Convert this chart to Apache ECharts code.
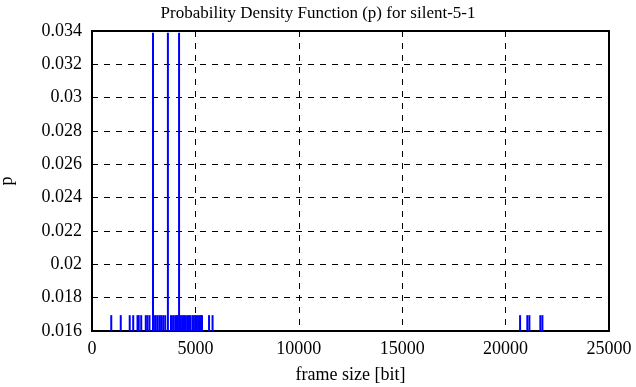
<!DOCTYPE html>
<html>
<head>
<meta charset="utf-8">
<script src="https://cdn.jsdelivr.net/npm/echarts@6/dist/echarts.min.js"></script>
<style>html,body{margin:0;padding:0;background:#fff;}#c{width:636px;height:387px;}</style>
</head>
<body>
<div id="c"></div>
<script>
// frame sizes [bit] of each impulse and their probability
const frameSizes = [931, 1390, 1824, 1993, 2200, 2260, 2380, 2600, 2680, 2780,
  2950, 3050, 3150, 3250, 3340, 3440, 3540, 3670, 3820, 3920, 4020, 4090, 4150, 4210,
  4300, 4380, 4450, 4520, 4600, 4680, 4740, 4850, 4920, 4990, 5060, 5130, 5200,
  5270, 5320, 5660, 5830, 20700, 21050, 21150, 21680, 21780];
const probs = [0.01695, 0.01695, 0.01695, 0.01695, 0.01695, 0.01695, 0.01695, 0.01695, 0.01695, 0.01695,
  0.0339, 0.01695, 0.01695, 0.01695, 0.01695, 0.01695, 0.01695, 0.0339, 0.01695, 0.01695, 0.01695, 0.01695, 0.01695, 0.0339,
  0.01695, 0.01695, 0.01695, 0.01695, 0.01695, 0.01695, 0.01695, 0.01695, 0.01695, 0.01695, 0.01695, 0.01695, 0.01695,
  0.01695, 0.01695, 0.01695, 0.01695, 0.01695, 0.01695, 0.01695, 0.01695, 0.01695];
const xTicks = [0, 5000, 10000, 15000, 20000, 25000];
const yMin = 0.016, yMax = 0.034, yStep = 0.002;

const data = frameSizes.map((x, i) => [x, probs[i]]);
const font = 'Liberation Serif';
const chart = echarts.init(document.getElementById('c'), null, {renderer: 'canvas'});
chart.setOption({
  animation: false,
  backgroundColor: '#fff',
  title: {
    text: 'Probability Density Function (p) for silent-5-1',
    left: 'center', top: 0,
    textStyle: {fontFamily: font, fontWeight: 'normal', fontSize: 17, color: '#000'}
  },
  grid: {left: 92, right: 27, top: 31, bottom: 56, show: true, borderColor: '#000', borderWidth: 2,
    containLabel: false, outerBoundsMode: 'none'},
  xAxis: {
    type: 'value', min: xTicks[0], max: xTicks[xTicks.length - 1], interval: 5000,
    name: 'frame size [bit]', nameLocation: 'middle', nameGap: 35,
    nameTextStyle: {fontFamily: font, fontSize: 18, color: '#000'},
    axisLine: {show: false},
    axisTick: {show: false},
    axisLabel: {fontFamily: font, fontSize: 18, color: '#000', margin: 9,
      formatter: v => String(v)},
    splitLine: {show: true, lineStyle: {color: '#000', type: [6, 6], width: 1}}
  },
  yAxis: {
    type: 'value', min: yMin, max: yMax, interval: yStep,
    name: 'p', nameLocation: 'middle', nameGap: 76, nameRotate: 90,
    nameTextStyle: {fontFamily: font, fontSize: 18, color: '#000'},
    axisLine: {show: false},
    axisTick: {show: false},
    axisLabel: {fontFamily: font, fontSize: 18, color: '#000', margin: 10,
      formatter: v => String(+v.toFixed(3))},
    splitLine: {show: true, lineStyle: {color: '#000', type: [6, 6], width: 1}}
  },
  series: [{
    type: 'custom',
    clip: true,
    data: data,
    renderItem: function (params, api) {
      const x = api.value(0), y = api.value(1);
      const p0 = api.coord([x, yMin]);
      const p1 = api.coord([x, y]);
      return {
        type: 'line',
        shape: {x1: p0[0], y1: p0[1], x2: p1[0], y2: p1[1]},
        style: {stroke: '#0000ff', lineWidth: 2}
      };
    }
  }]
});
</script>
</body>
</html>
